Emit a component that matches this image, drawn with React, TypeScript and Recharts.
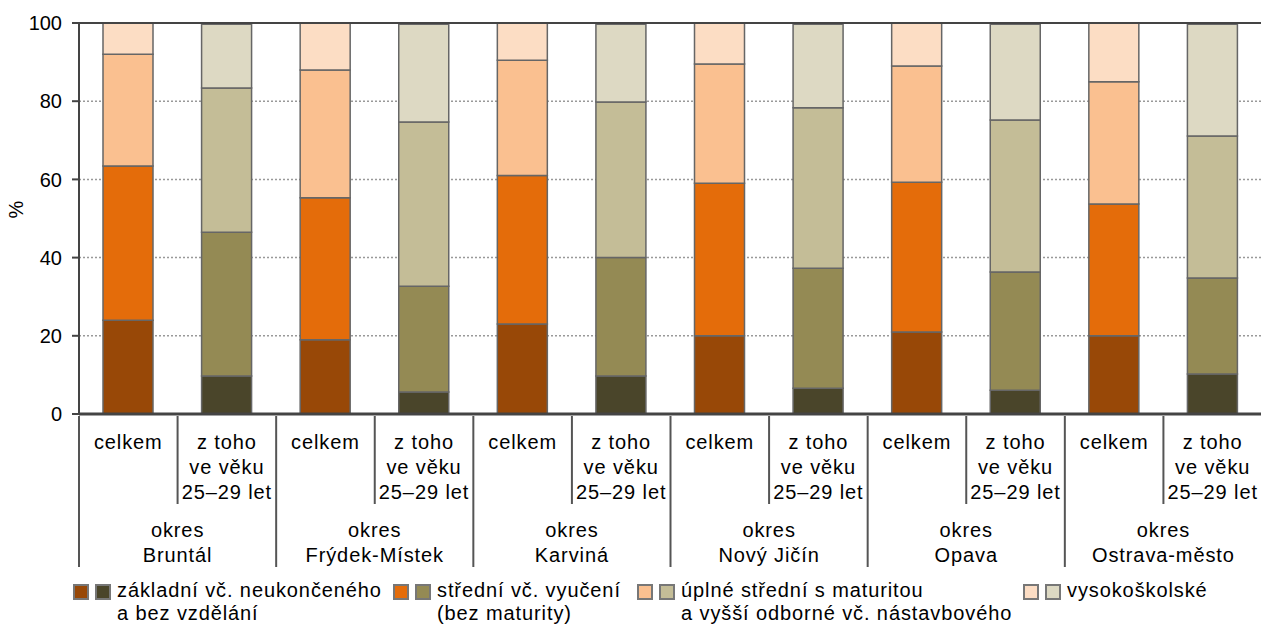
import React from "react";
import { Bar, BarChart, CartesianGrid, Cell, Legend, ReferenceLine, XAxis, YAxis } from "recharts";

const districts = ["Bruntál", "Frýdek-Místek", "Karviná", "Nový Jičín", "Opava", "Ostrava-město"];
const subLabels = [["celkem"], ["z toho", "ve věku", "25–29 let"]];

const seriesKeys = ["zakladni", "stredni", "uplne", "vysoke"];
const seriesNames = [
  ["základní vč. neukončeného", "a bez vzdělání"],
  ["střední vč. vyučení", "(bez maturity)"],
  ["úplné střední s maturitou", "a vyšší odborné vč. nástavbového"],
  ["vysokoškolské"],
];

// shares in %, per district
const zakladniCelkem = [24, 19, 23, 20, 21, 20];
const stredniCelkem = [39.4, 36.3, 38, 39, 38.3, 33.7];
const uplneCelkem = [28.6, 32.7, 29.5, 30.5, 29.7, 31.3];
const vysokeCelkem = [8, 12, 9.5, 10.5, 11, 15];

const zakladniMladi = [9.7, 5.6, 9.7, 6.6, 6.1, 10.2];
const stredniMladi = [36.8, 27.1, 30.3, 30.7, 30.2, 24.6];
const uplneMladi = [36.9, 42.0, 39.8, 41.0, 38.9, 36.3];
const vysokeMladi = [16.3, 25.0, 19.9, 21.4, 24.5, 28.6];

const colorsCelkem = ["#984807", "#E46C0A", "#FAC090", "#FCDDC4"];
const colorsMladi = ["#4A452A", "#948A54", "#C4BD97", "#DDD9C3"];

const yTicks = [0, 20, 40, 60, 80, 100];

const data = districts.flatMap((d, i) => [
  {
    name: d + " celkem",
    district: d,
    sub: 0,
    zakladni: zakladniCelkem[i],
    stredni: stredniCelkem[i],
    uplne: uplneCelkem[i],
    vysoke: vysokeCelkem[i],
  },
  {
    name: d + " 25–29",
    district: d,
    sub: 1,
    zakladni: zakladniMladi[i],
    stredni: stredniMladi[i],
    uplne: uplneMladi[i],
    vysoke: vysokeMladi[i],
  },
]);

const FONT = "Arial, 'Liberation Sans', sans-serif";
const CHART_W = 1262;
const LEFT = 79;
const SLOT = (CHART_W - LEFT) / data.length;

function XTick(props: any) {
  const { x, y, payload } = props;
  const idx = payload.index;
  const row = data[idx];
  const lines = subLabels[row.sub];
  const left = x - SLOT / 2;
  return (
    <g>
      <line x1={left} x2={left} y1={y} y2={y + (row.sub === 0 ? 151 : 88)} stroke="#555" strokeWidth={2} />
      <text x={x} y={y} textAnchor="middle" fontSize={20} letterSpacing={0.9} fontFamily={FONT} fill="#000">
        {lines.map((l, k) => (
          <tspan key={k} x={x} dy={k === 0 ? 33 : 25}>
            {l}
          </tspan>
        ))}
      </text>
      {row.sub === 0 && (
        <text x={x + SLOT / 2} y={y} textAnchor="middle" fontSize={20} letterSpacing={0.9} fontFamily={FONT} fill="#000">
          <tspan x={x + SLOT / 2} dy={121}>okres</tspan>
          <tspan x={x + SLOT / 2} dy={25}>{row.district}</tspan>
        </text>
      )}
    </g>
  );
}

const legendX = [73, 393, 637, 1023];

function LegendContent() {
  return (
    <div style={{ position: "relative", width: 1261, height: 54, fontFamily: FONT, fontSize: 20, letterSpacing: 0.9, color: "#000" }}>
      {seriesNames.map((lines, i) => (
        <div key={i} style={{ position: "absolute", left: legendX[i], top: 9, display: "flex" }}>
          <div style={{ width: 16, height: 16, marginTop: 5, background: colorsCelkem[i], border: "2px solid #777", boxSizing: "border-box" }} />
          <div style={{ width: 16, height: 16, marginTop: 5, marginLeft: 6, background: colorsMladi[i], border: "2px solid #777", boxSizing: "border-box" }} />
          <div style={{ marginLeft: 6, lineHeight: "23px", whiteSpace: "nowrap" }}>
            {lines.map((l, k) => (
              <div key={k}>{l}</div>
            ))}
          </div>
        </div>
      ))}
    </div>
  );
}

export default function App() {
  return (
    <div style={{ position: "absolute", left: 0, top: 0, width: 1261, height: 624, overflow: "hidden", background: "#fff" }}>
      <BarChart
        width={CHART_W}
        height={624}
        data={data}
        margin={{ top: 23, right: 0, bottom: 0, left: 0 }}
        barSize={50}
      >
        <CartesianGrid vertical={false} stroke="#999" strokeDasharray="2 2" strokeWidth={1.5} />
        <XAxis
          dataKey="name"
          interval={0}
          height={156}
          tick={<XTick />}
          tickLine={false}
          tickSize={0}
          stroke="#444"
          strokeWidth={3}
        />
        <YAxis
          domain={[0, 100]}
          ticks={yTicks}
          width={LEFT}
          tickSize={7}
          tickMargin={10}
          stroke="#444"
          strokeWidth={2}
          tick={{ fontSize: 20, fontFamily: FONT, fill: "#000" }}
          label={{ value: "%", angle: -90, position: "insideLeft", offset: 16, fontSize: 20, fontFamily: FONT, fill: "#000" }}
        />
        <Legend verticalAlign="bottom" height={54} content={<LegendContent />} />
        {seriesKeys.map((key, s) => (
          <Bar key={key} dataKey={key} stackId="a" stroke="#666" strokeWidth={1.5} isAnimationActive={false}>
            {data.map((row, i) => (
              <Cell key={i} fill={row.sub === 0 ? colorsCelkem[s] : colorsMladi[s]} />
            ))}
          </Bar>
        ))}
        <ReferenceLine y={100} stroke="#444" strokeWidth={2} />
      </BarChart>
    </div>
  );
}
